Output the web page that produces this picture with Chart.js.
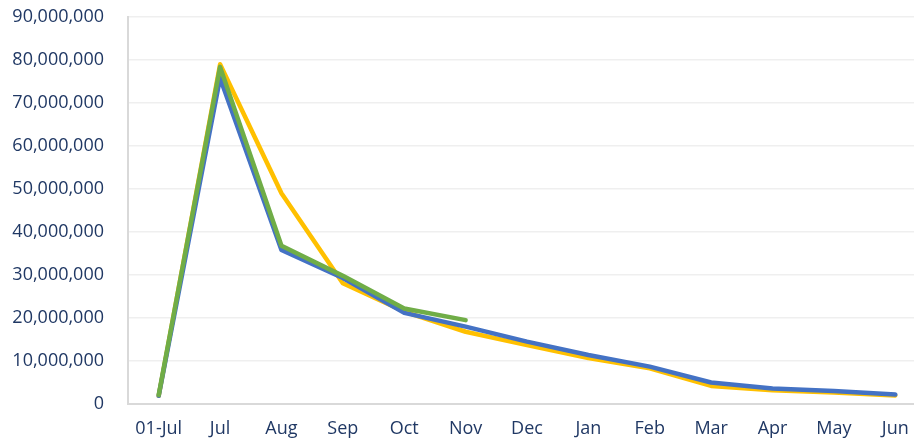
<!DOCTYPE html>
<html>
<head>
<meta charset="utf-8">
<script src="https://cdn.jsdelivr.net/npm/chart.js@4"></script>
<style>
    html, body { margin: 0; padding: 0; background: #fff; overflow: hidden; }
    #wrap { width: 926px; height: 440px; }
</style>
</head>
<body>
<div id="wrap"><canvas id="line-chart"></canvas></div>
<script>
// Categories and series
const months = ["01-Jul", "Jul", "Aug", "Sep", "Oct", "Nov", "Dec", "Jan", "Feb", "Mar", "Apr", "May", "Jun"];
const yellowSeries = [1900000, 79000000, 49000000, 28100000, 21500000, 16800000, 13700000, 10700000, 8300000, 4200000, 3200000, 2700000, 2000000];
const blueSeries = [1900000, 75800000, 35800000, 29300000, 21200000, 18000000, 14500000, 11400000, 8700000, 5000000, 3600000, 3000000, 2200000];
const greenSeries = [2100000, 78400000, 36800000, 29800000, 22200000, 19500000, null, null, null, null, null, null, null];

const yTicks = { min: 0, max: 90000000, step: 10000000 };

const textColor = "#203864";
const font = { family: "'Open Sans', 'Noto Sans', sans-serif", size: 18 };

const ctx = document.getElementById("line-chart").getContext("2d");

// Green on top, then blue, then yellow
new Chart(ctx, {
    type: "line",
    data: {
        labels: months,
        datasets: [
            {
                label: "Series 3",
                data: greenSeries,
                borderColor: "#70AD47",
                borderWidth: 4.5,
            },
            {
                label: "Series 2",
                data: blueSeries,
                borderColor: "#4472C4",
                borderWidth: 4.5,
            },
            {
                label: "Series 1",
                data: yellowSeries,
                borderColor: "#FFC000",
                borderWidth: 4.5,
            },
        ],
    },
    options: {
        responsive: true,
        maintainAspectRatio: false,
        animation: false,
        layout: { padding: { top: 17, bottom: 0, left: 0, right: 0 } },
        elements: {
            point: { radius: 0 },
            line: { tension: 0, borderCapStyle: "round", borderJoinStyle: "round" },
        },
        plugins: {
            legend: { display: false },
            tooltip: { enabled: false },
        },
        scales: {
            x: {
                offset: true,
                afterFit: (scale) => { scale.height = 36; },
                grid: { display: false, drawTicks: false, offset: true },
                border: { color: "#d9d9d9", width: 2 },
                ticks: { color: textColor, font: font, padding: 14, maxRotation: 0, autoSkip: false },
            },
            y: {
                min: yTicks.min,
                max: yTicks.max,
                afterFit: (scale) => {
                    scale.width = 128;
                    scale.paddingTop = 0;
                    scale.paddingBottom = 0;
                },
                grid: { color: "#efefef", lineWidth: 1.5, drawTicks: false },
                border: { color: "#d9d9d9", width: 2 },
                ticks: {
                    stepSize: yTicks.step,
                    color: textColor,
                    font: font,
                    padding: 24,
                    callback: (v) => v.toLocaleString("en-US"),
                },
            },
        },
    },
});
</script>
</body>
</html>
